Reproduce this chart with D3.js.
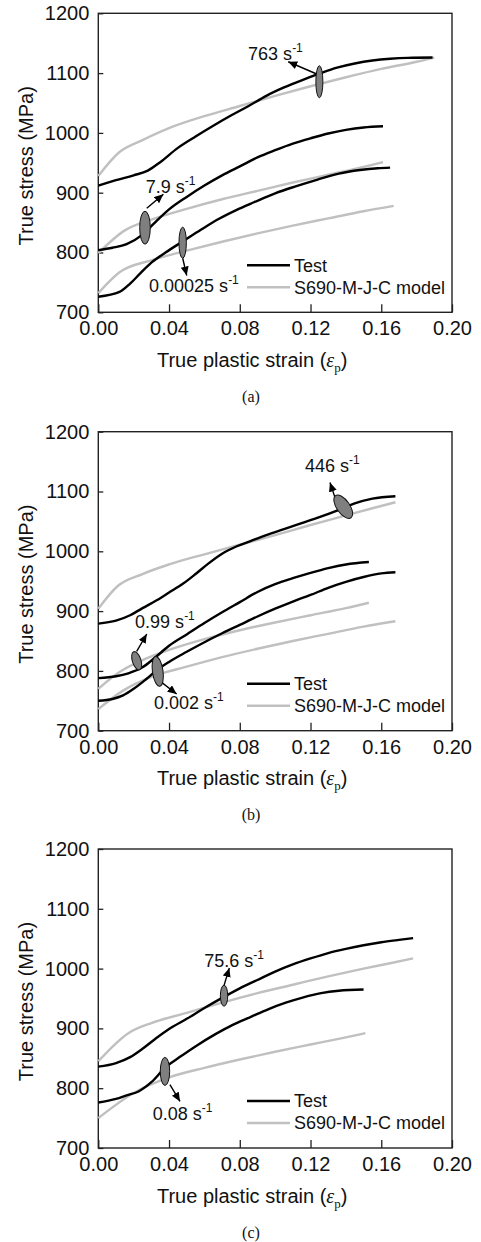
<!DOCTYPE html>
<html>
<head>
<meta charset="utf-8">
<script src="https://cdnjs.cloudflare.com/ajax/libs/d3/7.8.5/d3.min.js"></script>
<style>
body { margin: 0; background: #fff; }
svg { display: block; font-family: "Liberation Sans", Arial, sans-serif; }
</style>
</head>
<body>
<div id="chart"></div>
<script>
// ticks + labels shared by the three panels
var xTicks = [0, 0.04, 0.08, 0.12, 0.16, 0.20]
var yTicks = [700, 800, 900, 1000, 1100, 1200]
var panelNames = ["(a)", "(b)", "(c)"]
var legendNames = ["Test", "S690-M-J-C model"]

// [true plastic strain, true stress (MPa)]
// panel (a)
var testA763 = [[0,912],[0.01,921],[0.02,929],[0.028,937],[0.035,951],[0.045,975],[0.055,994],[0.065,1012],[0.075,1029],[0.085,1045],[0.095,1062],[0.105,1076],[0.115,1088],[0.125,1099],[0.135,1109],[0.145,1116],[0.155,1121],[0.165,1124],[0.175,1125.5],[0.189,1126]]
var modelA763 = [[0,928],[0.012,968],[0.025,988],[0.04,1008],[0.06,1028],[0.08,1045],[0.1,1062],[0.12,1078],[0.14,1093],[0.16,1107],[0.18,1119],[0.19,1126]]
var testA79 = [[0,804],[0.008,808],[0.016,814],[0.025,830],[0.032,850],[0.04,872],[0.05,893],[0.06,912],[0.07,929],[0.08,944],[0.09,959],[0.1,971],[0.11,982],[0.12,991],[0.13,999],[0.14,1005],[0.15,1009],[0.161,1011]]
var modelA79 = [[0,799],[0.015,837],[0.03,855],[0.05,873],[0.07,889],[0.09,903],[0.11,917],[0.13,930],[0.15,943],[0.161,951]]
var testA00025 = [[0,726],[0.012,734],[0.018,748],[0.024,766],[0.03,783],[0.038,800],[0.048,819],[0.058,838],[0.068,856],[0.078,871],[0.088,884],[0.1,899],[0.112,911],[0.124,922],[0.136,932],[0.148,938],[0.158,941],[0.165,942]]
var modelA00025 = [[0,732],[0.012,767],[0.03,787],[0.05,803],[0.07,818],[0.09,832],[0.11,845],[0.13,857],[0.15,869],[0.167,878]]

// panel (b)
var testB446 = [[0,879],[0.01,884],[0.018,893],[0.025,905],[0.033,918],[0.04,931],[0.048,946],[0.055,962],[0.062,979],[0.07,996],[0.078,1008],[0.086,1017],[0.095,1027],[0.105,1037],[0.115,1047],[0.125,1057],[0.135,1068],[0.145,1080],[0.155,1088],[0.168,1092]]
var modelB446 = [[0,904],[0.011,942],[0.025,962],[0.04,978],[0.06,995],[0.08,1011],[0.1,1027],[0.12,1044],[0.14,1060],[0.155,1072],[0.168,1082]]
var testB099 = [[0,788],[0.01,791],[0.017,796],[0.025,806],[0.032,822],[0.04,842],[0.05,861],[0.06,880],[0.07,898],[0.08,915],[0.09,932],[0.1,945],[0.11,955],[0.12,964],[0.13,972],[0.14,978],[0.153,982]]
var modelB099 = [[0,770],[0.012,798],[0.025,818],[0.04,835],[0.06,853],[0.08,868],[0.1,881],[0.12,893],[0.14,905],[0.153,914]]
var testB0002 = [[0,750],[0.008,753],[0.014,759],[0.02,770],[0.027,786],[0.033,801],[0.04,815],[0.05,832],[0.06,848],[0.07,863],[0.08,877],[0.09,891],[0.1,904],[0.11,916],[0.12,927],[0.13,939],[0.14,949],[0.15,957],[0.16,963],[0.168,965]]
var modelB0002 = [[0,736],[0.014,767],[0.03,790],[0.05,807],[0.07,823],[0.09,837],[0.11,850],[0.13,862],[0.15,874],[0.168,883]]

// panel (c)
var testC756 = [[0,836],[0.01,842],[0.018,852],[0.025,866],[0.032,882],[0.04,899],[0.05,916],[0.06,934],[0.07,951],[0.08,967],[0.09,981],[0.1,995],[0.11,1007],[0.12,1017],[0.13,1026],[0.14,1033],[0.15,1039],[0.16,1044],[0.17,1048],[0.178,1051]]
var modelC756 = [[0,845],[0.017,892],[0.03,909],[0.05,926],[0.07,943],[0.09,959],[0.11,973],[0.13,987],[0.15,1000],[0.165,1009],[0.178,1017]]
var testC008 = [[0,776],[0.01,782],[0.016,788],[0.023,795],[0.03,810],[0.038,835],[0.046,852],[0.056,872],[0.066,890],[0.076,906],[0.086,919],[0.096,932],[0.106,943],[0.116,952],[0.126,959],[0.136,963],[0.15,965]]
var modelC008 = [[0,750],[0.02,792],[0.04,818],[0.06,834],[0.08,848],[0.1,861],[0.12,873],[0.14,885],[0.151,892]]

// strain-rate call-outs: label, ellipse centre, arrow start/end, text start (all in data units)
var notesA = [
  {label: "763", at: [0.125, 1085.6], from: [0.1235, 1098.5], to: [0.1074, 1119], text: [0.0847, 1122]},
  {label: "7.9", at: [0.0264, 841.5], from: [0.0274, 873.9], to: [0.0368, 897.3], text: [0.0268, 900]},
  {label: "0.00025", at: [0.0477, 816.4], from: [0.0477, 790.8], to: [0.05, 761.5], text: [0.0287, 734]}
]
var notesB = [
  {label: "446", at: [0.1385, 1074.6], from: [0.1348, 1081.4], to: [0.131, 1114.9], text: [0.1169, 1131.9]},
  {label: "0.99", at: [0.0217, 817], from: [0.0217, 832.6], to: [0.0274, 861.7], text: [0.0208, 871.1]},
  {label: "0.002", at: [0.0336, 799.2], from: [0.0358, 780.8], to: [0.0443, 761.4], text: [0.0315, 736.3]}
]
var notesC = [
  {label: "75.6", at: [0.0711, 954.7], from: [0.0711, 971.9], to: [0.0741, 1001], text: [0.0599, 1002]},
  {label: "0.08", at: [0.0377, 828.1], from: [0.0405, 805.9], to: [0.0462, 777.9], text: [0.0308, 747.3]}
]

// ellipse sizes in px: rx, ry, rotation
var ovalsA = [[3.5, 16, 0], [5.3, 16.5, 0], [3.7, 15.5, 0]]
var ovalsB = [[6.5, 13.5, -35], [4.3, 9.5, -18], [5.3, 15, -8]]
var ovalsC = [[3.7, 10.5, 0], [4.7, 14, 0]]

var panels = [
  {name: panelNames[0], top: 13.3, tests: [testA763, testA79, testA00025], models: [modelA763, modelA79, modelA00025], notes: notesA, ovals: ovalsA},
  {name: panelNames[1], top: 431.7, tests: [testB446, testB099, testB0002], models: [modelB446, modelB099, modelB0002], notes: notesB, ovals: ovalsB},
  {name: panelNames[2], top: 849, tests: [testC756, testC008], models: [modelC756, modelC008], notes: notesC, ovals: ovalsC}
]

var W = 481, H = 1242
var left = 98.3, pw = 353.7, ph = 299
var black = "#000", grey = "#c0c0c0"

var svg = d3.select("#chart").append("svg")
  .attr("width", W)
  .attr("height", H)

svg.append("rect").attr("width", W).attr("height", H).attr("fill", "#fff")

svg.append("defs").append("marker")
  .attr("id", "arr")
  .attr("markerUnits", "userSpaceOnUse")
  .attr("markerWidth", 10)
  .attr("markerHeight", 9)
  .attr("refX", 9)
  .attr("refY", 4)
  .attr("orient", "auto")
  .append("path")
  .attr("d", "M0,0 L9,4 L0,8 Z")
  .attr("fill", black)

var x = d3.scaleLinear().domain([0, 0.2]).range([0, pw])
var y = d3.scaleLinear().domain([700, 1200]).range([ph, 0])

var line = d3.line()
  .x(function(d) { return x(d[0]) })
  .y(function(d) { return y(d[1]) })
  .curve(d3.curveMonotoneX)

panels.forEach(function(p) {
  var g = svg.append("g").attr("transform", "translate(" + left + "," + p.top + ")")

  // axes, ticks pointing inward
  var xAxis = g.append("g")
    .attr("class", "x-axis")
    .attr("transform", "translate(0," + ph + ")")
    .call(d3.axisBottom(x).tickValues(xTicks).tickFormat(d3.format(".2f")).tickSizeInner(-8).tickSizeOuter(0).tickPadding(9))
  var yAxis = g.append("g")
    .attr("class", "y-axis")
    .call(d3.axisLeft(y).tickValues(yTicks).tickFormat(d3.format("d")).tickSizeInner(-5).tickSizeOuter(0).tickPadding(9))
  g.selectAll(".domain").remove()
  g.selectAll(".tick line").attr("stroke", "#222").attr("stroke-width", 1.3)
  g.selectAll(".tick text").attr("font-size", 20).attr("fill", "#111").attr("font-family", "Liberation Sans, Arial, sans-serif")

  g.append("rect")
    .attr("width", pw).attr("height", ph)
    .attr("fill", "none").attr("stroke", "#222").attr("stroke-width", 1.4)

  // model curves under the test curves
  g.selectAll(".model")
    .data(p.models)
    .enter().append("path")
    .attr("class", "model")
    .attr("d", line)
    .attr("fill", "none")
    .attr("stroke", grey)
    .attr("stroke-width", 2.4)

  g.selectAll(".test")
    .data(p.tests)
    .enter().append("path")
    .attr("class", "test")
    .attr("d", line)
    .attr("fill", "none")
    .attr("stroke", black)
    .attr("stroke-width", 2.4)

  // call-outs
  p.notes.forEach(function(n, i) {
    var o = p.ovals[i]
    g.append("line")
      .attr("x1", x(n.from[0])).attr("y1", y(n.from[1]))
      .attr("x2", x(n.to[0])).attr("y2", y(n.to[1]))
      .attr("stroke", black).attr("stroke-width", 1.4)
      .attr("marker-end", "url(#arr)")
    g.append("ellipse")
      .attr("transform", "translate(" + x(n.at[0]) + "," + y(n.at[1]) + ") rotate(" + o[2] + ")")
      .attr("rx", o[0]).attr("ry", o[1])
      .attr("fill", "#7f7f7f").attr("stroke", "#111").attr("stroke-width", 1)
    var t = g.append("text")
      .attr("x", x(n.text[0])).attr("y", y(n.text[1]))
      .attr("font-size", 18).attr("fill", "#111")
    t.append("tspan").text(n.label + " s")
    t.append("tspan").attr("font-size", 12).attr("dy", -8).text("-1")
  })

  // legend
  var leg = g.append("g").attr("transform", "translate(" + (247 - left) + "," + (ph - 47) + ")")
  ;[black, grey].forEach(function(c, i) {
    leg.append("line")
      .attr("x1", 0).attr("x2", 43)
      .attr("y1", i * 22).attr("y2", i * 22)
      .attr("stroke", c).attr("stroke-width", 2.6)
    leg.append("text")
      .attr("x", 47).attr("y", i * 22).attr("dy", "0.35em")
      .attr("font-size", 18).attr("fill", "#111")
      .text(legendNames[i])
  })

  // axis titles
  g.append("text")
    .attr("transform", "translate(" + (33 - left) + "," + (ph / 2 + 3) + ") rotate(-90)")
    .attr("text-anchor", "middle")
    .attr("font-size", 20).attr("fill", "#111")
    .text("True stress (MPa)")

  var xt = g.append("text")
    .attr("x", 157 - left).attr("y", ph + 54.5)
    .attr("font-size", 20).attr("fill", "#111")
  xt.append("tspan").text("True plastic strain (")
  xt.append("tspan").attr("font-family", "Liberation Serif, Times New Roman, serif").attr("font-style", "italic").text("\u03b5")
  xt.append("tspan").attr("font-family", "Liberation Serif, Times New Roman, serif").attr("font-size", 13).attr("dy", 5).text("p")
  xt.append("tspan").attr("dy", -5).text(")")

  g.append("text")
    .attr("x", 251 - left).attr("y", 388.5)
    .attr("text-anchor", "middle")
    .attr("font-family", "Liberation Serif, Times New Roman, serif")
    .attr("font-size", 16).attr("fill", "#111")
    .text(p.name)
})
</script>
</body>
</html>
